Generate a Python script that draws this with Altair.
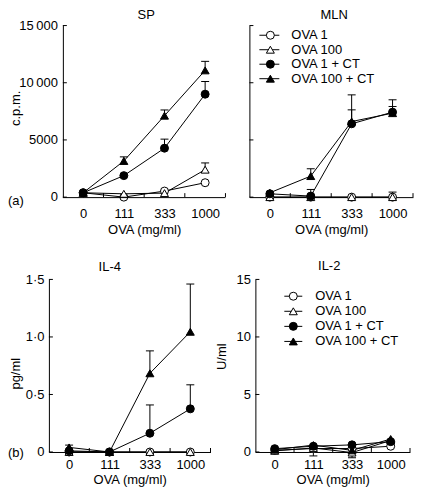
import json
import altair as alt
import pandas as pd

FONT = "Liberation Sans"
FS = 13

doses = ["0", "111", "333", "1000"]
series = ["OVA 1", "OVA 100", "OVA 1 + CT", "OVA 100 + CT"]

# SP (c.p.m.)
sp_vals = [
    [380, 0, 530, 1260],
    [380, 290, 350, 2400],
    [380, 1880, 4280, 9000],
    [380, 3160, 7120, 11080],
]
sp_errs = [
    [None, None, None, None],
    [None, None, None, 2990],
    [None, None, 5070, 10110],
    [None, 3520, 7620, 11870],
]

# MLN (c.p.m.)
mln_vals = [
    [0, 0, 0, 0],
    [0, 0, 0, 0],
    [290, 90, 6410, 7430],
    [380, 1840, 6610, 7340],
]
mln_errs = [
    [None, None, None, None],
    [None, None, None, 440],
    [None, 670, 7630, 7920],
    [None, 2480, 8940, 8510],
]

# IL-4 (pg/ml)
il4_vals = [
    [0, 0, 0, 0],
    [0, 0, 0, 0],
    [0.01, 0, 0.163, 0.375],
    [0.04, 0, 0.684, 1.045],
]
il4_errs = [
    [None, None, None, None],
    [None, None, None, None],
    [None, None, 0.409, 0.584],
    [0.06, None, 0.879, 1.46],
]

# IL-2 (U/ml)
il2_vals = [
    [0.15, 0.3, 0.3, 0.5],
    [0.1, 0.35, -0.05, 1.0],
    [0.29, 0.5, 0.62, 0.9],
    [0.2, 0.6, 0.14, 1.13],
]
il2_errs = [
    [None, -0.34, None, None],
    [None, None, -0.5, None],
    [None, None, None, None],
    [None, None, None, None],
]

cpm_ticks = [0, 5000, 10000, 15000]
cpm_labels = ["0", "5000", "10\u2009000", "15\u2009000"]
il4_ticks = [0, 0.5, 1.0, 1.5]
il4_labels = ["0", "0·5", "1·0", "1·5"]
il2_ticks = [0, 5, 10, 15]
il2_labels = ["0", "5", "10", "15"]

shapes = ["circle", "triangle-up", "circle", "triangle-up"]
fills = ["white", "white", "black", "black"]


def make_df(vals, errs):
    rows = []
    for s, vs, es in zip(series, vals, errs):
        for i, (v, e) in enumerate(zip(vs, es)):
            rows.append({"idx": i, "series": s, "value": v, "err": e})
    return pd.DataFrame(rows)


def shape_enc():
    return alt.Shape("series:N", scale=alt.Scale(domain=series, range=shapes), legend=None)


def fill_enc():
    return alt.Fill("series:N", scale=alt.Scale(domain=series, range=fills), legend=None)


def text_layer(txt, x, y, angle=0, align="left", baseline="middle"):
    kw = dict(align=align, baseline=baseline, font=FONT, fontSize=FS, color="black")
    if angle:
        kw["angle"] = angle
    return alt.Chart(pd.DataFrame({"txt": [txt]})).mark_text(**kw).encode(
        text="txt:N", x=alt.value(x), y=alt.value(y))


def panel(vals, errs, w, h, title, title_x, title_y, ymax, yvals, ylabels,
          show_ylabels=True, ytitle=None, ytitle_x=0, ytitle_dy=0,
          tag=None, tag_x=0, tag_dy=0, legend=None, lab_pad=8, tit_pad=3, inset=0):
    df = make_df(vals, errs)
    n = len(doses)
    plotw = w - inset
    lo = -0.5 - inset * n / plotw
    xscale = alt.Scale(domain=[lo, n - 0.5], nice=False, zero=False)
    xaxis_kw = dict(values=list(range(n)),
                    labelExpr=f"{json.dumps(doses)}[datum.value]",
                    title="OVA (mg/ml)", labelPadding=lab_pad, titlePadding=tit_pad,
                    labelFlush=False)
    if inset:
        xaxis_kw.update(domain=False, titleX=inset + plotw / 2)
    xaxis = alt.Axis(**xaxis_kw)
    yscale = alt.Scale(domain=[0, ymax], nice=False, zero=False)
    if inset:
        yaxis = None
    elif show_ylabels:
        yaxis = alt.Axis(values=yvals,
                         labelExpr=f"{json.dumps(ylabels, ensure_ascii=False)}[indexof({json.dumps(yvals)}, datum.value)]",
                         title=None, labelPadding=5, labelFlush=False)
    else:
        yaxis = alt.Axis(values=yvals, labels=False, title=None)

    def X(f):
        return alt.X(f, scale=xscale, axis=xaxis)

    def Y(f):
        return alt.Y(f, scale=yscale, axis=yaxis)

    base = alt.Chart(df)
    witherr = base.transform_filter("isValid(datum.err)")
    bars = witherr.mark_rule(color="black", strokeWidth=1).encode(
        x=X("idx:Q"), y=Y("value:Q"), y2="err:Q")
    caps = witherr.mark_tick(orient="horizontal", size=8, thickness=1,
                             color="black", opacity=1).encode(
        x=X("idx:Q"), y=Y("err:Q"))
    lines = base.mark_line(color="black", strokeWidth=1).encode(
        x=X("idx:Q"), y=Y("value:Q"), detail="series:N")
    pts = base.mark_point(filled=True, opacity=1, stroke="black",
                          strokeWidth=1, size=64).encode(
        x=X("idx:Q"), y=Y("value:Q"), shape=shape_enc(), fill=fill_enc())
    tick_df = pd.DataFrame({"t": yvals, "lab": ylabels})
    yt = alt.Chart(tick_df).mark_rule(color="black", strokeWidth=1).encode(
        y=Y("t:Q"), x=alt.value(inset), x2=alt.value(inset + 4))
    xt = alt.Chart(pd.DataFrame({"b": [i + 0.5 for i in range(n)]})).mark_rule(
        color="black", strokeWidth=1).encode(
        x=X("b:Q"), y=alt.value(h), y2=alt.value(h - 4))
    layers = [bars, caps, lines, pts, yt, xt,
              text_layer(title, title_x, title_y, align="center", baseline="alphabetic")]
    if inset:
        ydom = alt.Chart(pd.DataFrame({"a": [0]})).mark_rule(color="black", strokeWidth=1).encode(
            x=alt.value(inset + 0.5), y=alt.value(0), y2=alt.value(h))
        xdom = alt.Chart(pd.DataFrame({"a": [-0.5], "b": [n - 0.5]})).mark_rule(
            color="black", strokeWidth=1).encode(
            x=X("a:Q"), x2="b:Q", y=alt.value(h + 0.5))
        ylab = alt.Chart(tick_df).mark_text(align="right", baseline="middle", font=FONT,
                                            fontSize=FS, color="black").encode(
            y=Y("t:Q"), x=alt.value(inset - 5), text="lab:N")
        layers += [ydom, xdom, ylab]
    if tag is not None:
        layers.append(text_layer(tag, tag_x, h + tag_dy))
    if ytitle is not None:
        layers.append(text_layer(ytitle, ytitle_x, h / 2 + ytitle_dy, angle=270, align="center"))
    main = alt.layer(*layers)
    if legend is not None:
        # legend: (stub_left, marker_x, stub_right, label_x, first_row, last_row)
        sl, mx, sr, lx, rt, rb = legend
        step = (rb - rt) / (len(series) - 1)
        ldf = pd.DataFrame({"series": series})
        ly = alt.Y("series:N",
                   scale=alt.Scale(domain=series, range=[rt - step / 2, rb + step / 2], padding=0.5),
                   axis=None)
        stubs = alt.Chart(ldf).mark_rule(color="black", strokeWidth=1).encode(
            y=ly, x=alt.value(sl), x2=alt.value(sr))
        marks = alt.Chart(ldf).mark_point(filled=True, opacity=1, stroke="black",
                                          strokeWidth=1, size=64).encode(
            y=ly, x=alt.value(mx), shape=shape_enc(), fill=fill_enc())
        labels = alt.Chart(ldf).mark_text(align="left", baseline="middle", font=FONT,
                                          fontSize=FS, color="black").encode(
            y=ly, x=alt.value(lx), text="series:N")
        leg = alt.layer(stubs, marks, labels)
        ch = alt.layer(main, leg).resolve_scale(y="independent")
    else:
        ch = main
    return ch.properties(width=w, height=h)


sp = panel(sp_vals, sp_errs, 177, 172, "SP", 97.5, -7, 15000, cpm_ticks, cpm_labels,
           ytitle="c.p.m.", ytitle_x=-32.5, ytitle_dy=-3,
           tag="(a)", tag_x=-41, tag_dy=4, lab_pad=10.5, tit_pad=3, inset=14)
mln = panel(mln_vals, mln_errs, 164, 172, "MLN", 85, -7, 15000, cpm_ticks, cpm_labels,
            show_ylabels=False, legend=(10, 21, 30, 42, 7, 56), lab_pad=10.5, tit_pad=3)
il4 = panel(il4_vals, il4_errs, 162, 173, "IL-4", 61, -8, 1.5, il4_ticks, il4_labels,
            ytitle="pg/ml", ytitle_x=-32.5, ytitle_dy=8,
            tag="(b)", tag_x=-41, tag_dy=1, lab_pad=7, tit_pad=2)
il2 = panel(il2_vals, il2_errs, 155, 173, "IL-2", 74, -9, 15, il2_ticks, il2_labels,
            ytitle="U/ml", ytitle_x=-33, ytitle_dy=-9,
            legend=(29, 38, 47, 60, 14, 65), lab_pad=7, tit_pad=2)

top = alt.hconcat(sp, mln, spacing=22)
bottom = alt.hconcat(il4, il2, spacing=5)

chart = alt.vconcat(top, bottom, spacing=23.5).properties(
    padding=0
).configure_view(stroke=None).configure_axis(
    domainColor="black", domainWidth=1, labelColor="black", titleColor="black",
    labelFont=FONT, titleFont=FONT, labelFontSize=FS, titleFontSize=FS,
    titleFontWeight="normal", grid=False, ticks=False, tickSize=0
)

chart.save("out.html", embed_options={"renderer": "svg", "actions": False})
